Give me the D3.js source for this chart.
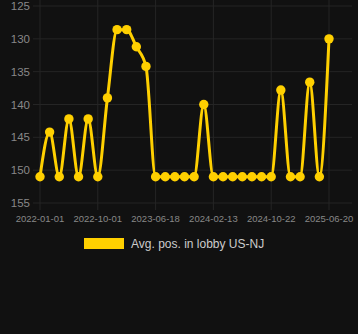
<!DOCTYPE html>
<html>
<head>
<meta charset="utf-8">
<script src="https://cdn.jsdelivr.net/npm/d3@7"></script>
<style>
  body { margin: 0; background: #111111; }
  svg { display: block; }
</style>
</head>
<body>
<div id="chart-area"></div>
<script>
// dates on the category axis (only every 6th one is labelled)
var dates = [
  "2022-01-01", "2022-02-15", "2022-04-01", "2022-05-17", "2022-07-01", "2022-08-16",
  "2022-10-01", "2022-11-13", "2022-12-26", "2023-02-07", "2023-03-22", "2023-05-05",
  "2023-06-18", "2023-07-28", "2023-09-06", "2023-10-16", "2023-11-25", "2024-01-04",
  "2024-02-13", "2024-03-26", "2024-05-07", "2024-06-18", "2024-07-30", "2024-09-10",
  "2024-10-22", "2024-12-01", "2025-01-10", "2025-02-19", "2025-03-31", "2025-05-10",
  "2025-06-20"
];
var positions = [
  151, 144.2, 151, 142.2, 151, 142.2, 151, 139, 128.6, 128.6, 131.2, 134.2,
  151, 151, 151, 151, 151, 140, 151, 151, 151, 151, 151, 151,
  151, 137.8, 151, 151, 136.6, 151, 130
];
var yTicks = [125, 130, 135, 140, 145, 150, 155];
var xTicks = ["2022-01-01", "2022-10-01", "2023-06-18", "2024-02-13", "2024-10-22", "2025-06-20"];
var seriesName = "Avg. pos. in lobby US-NJ";

var W = 358, H = 334;
var lineColor = "#ffd000";
var gridColor = "#252525";

var svg = d3.select("#chart-area").append("svg")
  .attr("width", W).attr("height", H);

svg.append("rect").attr("width", W).attr("height", H).attr("fill", "#111111");

var x = d3.scalePoint().domain(dates).range([40, 329]);
var y = d3.scaleLinear().domain([125, 155]).range([6, 203]);

// grid
svg.append("g").selectAll("line.h").data(yTicks).enter().append("line")
  .attr("x1", 33).attr("x2", 352)
  .attr("y1", d => y(d)).attr("y2", d => y(d))
  .attr("stroke", gridColor).attr("stroke-width", 1);

svg.append("g").selectAll("line.v").data(xTicks).enter().append("line")
  .attr("x1", d => x(d)).attr("x2", d => x(d))
  .attr("y1", 0).attr("y2", 210)
  .attr("stroke", gridColor).attr("stroke-width", 1);

// y labels
svg.append("g").selectAll("text").data(yTicks).enter().append("text")
  .attr("x", 30).attr("y", d => y(d))
  .attr("dy", "0.35em")
  .attr("text-anchor", "end")
  .attr("fill", "#888888")
  .style("font", "11.5px 'Liberation Sans', Arial, sans-serif")
  .text(d => d);

// x labels
svg.append("g").selectAll("text").data(xTicks).enter().append("text")
  .attr("x", d => x(d)).attr("y", 222)
  .attr("text-anchor", "middle")
  .attr("fill", "#888888")
  .style("font", "9.5px 'Liberation Sans', Arial, sans-serif")
  .text(d => d);

var data = dates.map((d, i) => ({date: d, value: positions[i]}));

var line = d3.line()
  .x(d => x(d.date))
  .y(d => y(d.value))
  .curve(d3.curveMonotoneX);

svg.append("path").datum(data)
  .attr("d", line)
  .attr("fill", "none")
  .attr("stroke", lineColor)
  .attr("stroke-width", 3);

svg.append("g").selectAll("circle").data(data).enter().append("circle")
  .attr("cx", d => x(d.date))
  .attr("cy", d => y(d.value))
  .attr("r", 4.7)
  .attr("fill", lineColor);

// legend
var legend = svg.append("g").attr("transform", "translate(84,238)");
legend.append("rect")
  .attr("width", 40).attr("height", 11)
  .attr("fill", lineColor);
legend.append("text")
  .attr("x", 47).attr("y", 10)
  .attr("fill", "#cccccc")
  .style("font", "12px 'Liberation Sans', Arial, sans-serif")
  .text(seriesName);
</script>
</body>
</html>
